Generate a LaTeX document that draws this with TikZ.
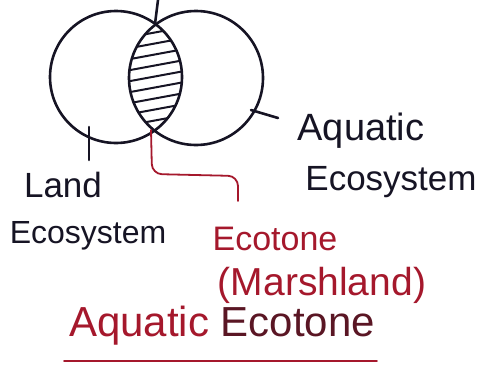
\documentclass[tikz,border=0pt]{standalone}
\usepackage{fontspec}
\setmainfont{Liberation Sans}
\usepackage{tikz}
\definecolor{inkdark}{RGB}{22,20,36}
\definecolor{inkred}{RGB}{165,24,44}
\definecolor{inkmaroon}{RGB}{90,22,36}

\begin{document}
\begin{tikzpicture}[x=1pt, y=-1pt,
            ring/.style={line width=2.6pt, draw=inkdark},
            tick/.style={line width=2.6pt, draw=inkdark, line cap=round},
            hatch/.style={line width=2pt, draw=inkdark},
            link/.style={line width=1.8pt, draw=inkred, line cap=round},
            lbl/.style={text=inkdark, inner sep=0pt, anchor=base},
        ]
            \useasboundingbox (0,0) rectangle (482,381);

            % the two systems that overlap
            \coordinate (landc) at (116,77);
            \coordinate (waterc) at (196,78);
            \draw[ring] (landc) circle (66pt);
            \draw[ring] (waterc) circle (67pt);

            % hatched overlap
            \begin{scope}
                \clip (landc) circle (66pt);
                \clip (waterc) circle (67pt);
                \foreach \h in {32,43,...,142}
                    \draw[hatch] (125,\h+6) -- (190,\h-6);
            \end{scope}

            % where the circles cross
            \coordinate (topx) at (155,24);
            \coordinate (botx) at (151,130);
            \coordinate (topend) at (158,0);
            \draw[tick] (topx) -- (topend);

            % labels
            \node[lbl, font=\fontsize{38}{40}\selectfont] (aq) at (361,140) {Aquatic};
            \node[lbl, font=\fontsize{35}{38}\selectfont] (aqeco) at (391,190) {Ecosystem};
            \node[lbl, font=\fontsize{35}{38}\selectfont] (land) at (63,197) {Land};
            \node[lbl, font=\fontsize{32}{36}\selectfont] (landeco) at (88,243) {Ecosystem};
            \node[lbl, font=\fontsize{34}{38}\selectfont, text=inkred] (eco) at (275,250) {Ecotone};
            \node[lbl, font=\fontsize{39}{42}\selectfont, text=inkred] (marsh) at (322,295) {(Marshland)};
            \node[lbl, font=\fontsize{42}{46}\selectfont, text=inkmaroon] (title) at (222,336) {\textcolor{inkred}{Aquatic} Ecotone};

            % pointers
            \coordinate (aqtick) at (251,110);
            \coordinate (aqend) at (278,118);
            \draw[tick] (aqtick) -- (aqend);
            \coordinate (landtick) at (89,127);
            \coordinate (landend) at (89,160);
            \draw[tick] (landtick) -- (landend);
            \coordinate (ecoend) at (238,201);
            \draw[link, rounded corners=10pt] (botx) -- (152,174) -- (238,176) -- (ecoend);

            % underline
            \coordinate (ulstart) at (64,361);
            \coordinate (ulend) at (377,361);
            \draw[link] (ulstart) -- (ulend);
        \end{tikzpicture}
\end{document}
